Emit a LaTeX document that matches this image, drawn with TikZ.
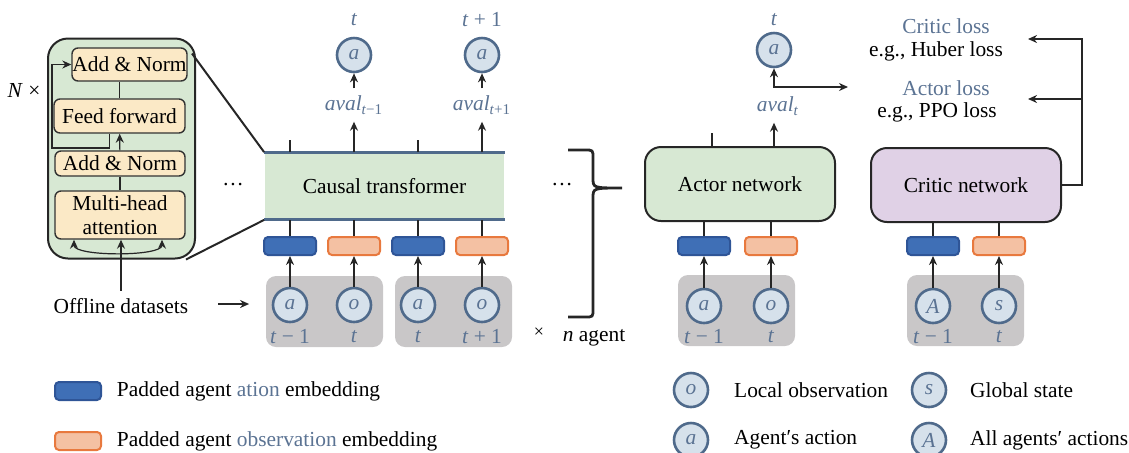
\documentclass[tikz,border=0pt]{standalone}
\usepackage{fontspec}
\setmainfont{Liberation Serif}
\usetikzlibrary{positioning,arrows.meta}
\definecolor{txtblue}{HTML}{5B7393}
\definecolor{circfill}{HTML}{D6E1EB}
\definecolor{circline}{HTML}{4F6A8B}
\definecolor{actfill}{HTML}{3F6FB6}
\definecolor{actline}{HTML}{2F5597}
\definecolor{obsfill}{HTML}{F4C1A3}
\definecolor{obsline}{HTML}{E8793E}
\definecolor{netgreen}{HTML}{D7E8D3}
\definecolor{layeryellow}{HTML}{FBE9C6}
\definecolor{netpurple}{HTML}{E0D1E6}
\definecolor{boxgray}{HTML}{C9C7C8}

\begin{document}
\begin{tikzpicture}[x=0.5pt, y=-0.5pt, >={Stealth[length=4.5pt,width=4pt]},
            line width=0.9pt, draw=black!85,
            every node/.style = {font=\fontsize{10.7}{12}\selectfont},
            var/.style = {circle, draw=circline, line width=1.3pt, fill=circfill, minimum size=17pt,
                    inner sep=0pt, text=txtblue, font=\fontsize{10.7}{12}\selectfont\itshape},
            actemb/.style = {draw=actline, fill=actfill, line width=1pt, rounded corners=2pt,
                    minimum width=26pt, minimum height=9pt, inner sep=0pt},
            obsemb/.style = {draw=obsline, fill=obsfill, line width=1pt, rounded corners=2pt,
                    minimum width=26pt, minimum height=9pt, inner sep=0pt},
            blk/.style = {draw=black!85, fill=netgreen, rounded corners=10pt, line width=1pt, inner sep=0pt},
            layer/.style = {draw=black!80, fill=layeryellow, rounded corners=3pt, inner sep=0pt, line width=0.7pt},
            net/.style = {draw=black!85, line width=1pt, rounded corners=8pt, minimum width=95pt, minimum height=37pt},
            group/.style = {fill=boxgray, rounded corners=5pt, inner sep=0pt, minimum width=58.5pt, minimum height=35.5pt},
            tlabel/.style = {text=txtblue},
            thinline/.style = {line width=0.6pt},
        ]

        \useasboundingbox (0,0) rectangle (1129,452);

        % transformer block
        \node[blk, minimum width=73.5pt, minimum height=110pt] (blk) at (121.5,148.5) {};
        \node[layer, minimum width=57.5pt, minimum height=16.5pt] (an1) at (129.5,64.5) {Add \& Norm};
        \node[layer, minimum width=65.5pt, minimum height=17pt] (ff) at (119.5,116) {Feed forward};
        \node[layer, minimum width=65pt, minimum height=12.5pt] (an2) at (120,163.5) {Add \& Norm};
        \node[layer, minimum width=65pt, minimum height=24pt, align=center] (mha) at (120,215) {Multi-head\\attention};
        \node at (24,90) {\textit{N} ×};
        \coordinate (res) at (52,148);
        \draw[thinline] (an2) -- (mha);
        \draw[thinline, ->] (an2) -- (ff);
        \draw[thinline] (ff.north) -- (ff.north |- an1.south);
        \draw[thinline, ->] ([xshift=-5pt]ff.south) |- (res) |- (an1.west);
        \draw[thinline, <->] ([xshift=-23pt]mha.south) .. controls +(0,17) and +(0,17) .. ([xshift=21pt]mha.south);

        \node (offline) at (121,306) {Offline datasets};
        \draw[thinline, ->] (offline.north) -- (offline.north |- mha.south);

        % causal transformer
        \node[fill=netgreen, minimum width=119.5pt, minimum height=33pt] (ct) at (384.5,186) {Causal transformer};
        \draw[circline, line width=1.5pt] (ct.north west) -- (ct.north east);
        \draw[circline, line width=1.5pt] (ct.south west) -- (ct.south east);
        \draw[line width=1pt] ([xshift=-2pt,yshift=-8pt]blk.north east) -- (ct.north west);
        \draw[line width=1pt] ([xshift=-5pt]blk.south east) -- (ct.south west);
        \node at (233,185) {\dots};

        \node[group] (g1) at (324.5,311.5) {};
        \node[group] (g2) at (453.5,311.5) {};
        \foreach \x/\sty/\sym/\lab [count=\i] in {290/actemb/a/{\textit{t} − 1}, 354/obsemb/o/{\textit{t}},
                418/actemb/a/{\textit{t}}, 482/obsemb/o/{\textit{t} + 1}}
            {
                \node[\sty] (e\i) at (\x,246) {};
                \node[var] (v\i) at (\x,305) {\sym};
                \node[tlabel] at (\x,337) {\lab};
                \draw[->] (v\i) -- (e\i);
                \draw (e\i) -- (e\i |- ct.south);
            }
        \draw (e1 |- ct.north) -- ++(0,-12);
        \draw (e3 |- ct.north) -- ++(0,-12);

        \node[tlabel] (av1) at (354,105) {\textit{aval}\textsubscript{\textit{t}−1}};
        \node[var] (o1) at (354,55) {a};
        \node[tlabel] at (354,20) {\textit{t}};
        \node[tlabel] (av2) at (482,105) {\textit{aval}\textsubscript{\textit{t}+1}};
        \node[var] (o2) at (482,55) {a};
        \node[tlabel] at (482,20) {\textit{t} + 1};
        \draw[->] (e2 |- ct.north) -- (av1);
        \draw[->] (av1) -- (o1);
        \draw[->] (e4 |- ct.north) -- (av2);
        \draw[->] (av2) -- (o2);

        \coordinate (oa) at (218,304);
        \draw[->] (oa) -- (oa -| g1.west) [shorten >=8pt];

        % n agents
        \node at (562,185) {\dots};
        \draw[line width=1.4pt] (568,150) -- (585,150) .. controls (593,150) .. (593,158) -- (593,178)
            .. controls (593,188) .. (622,188) .. controls (593,188) .. (593,198) -- (593,309)
            .. controls (593,317) .. (585,317) -- (568,317);
        \node at (539,333) {\small ×};
        \node at (594,338) {\textit{n} agent};

        % actor and critic
        \node[net, fill=netgreen] (actor) at (740,184) {Actor network};
        \node[net, fill=netpurple] (critic) at (966,185) {Critic network};
        \node[group] (g3) at (736.5,310.5) {};
        \node[group] (g4) at (965.5,310.5) {};
        \foreach \x/\sty/\sym/\lab/\net [count=\i] in {704/actemb/a/{\textit{t} − 1}/actor, 771/obsemb/o/{\textit{t}}/actor,
                933/actemb/A/{\textit{t} − 1}/critic, 999/obsemb/s/{\textit{t}}/critic}
            {
                \node[\sty] (r\i) at (\x,246) {};
                \node[var] (w\i) at (\x,306) {\sym};
                \node[tlabel] at (\x,337) {\lab};
                \draw[->] (w\i) -- (r\i);
                \draw (r\i) -- (r\i |- \net.south);
            }

        \draw ([xshift=-14pt]actor.north) -- ++(0,-13);
        \node[tlabel] (avt) at (778,106) {\textit{aval}\textsubscript{\textit{t}}};
        \node[var] (at) at (774,50) {a};
        \node[tlabel] at (774,20) {\textit{t}};
        \coordinate (lossin) at (848,87);
        \draw[->] (actor.north -| at) -- (at |- avt.south);
        \draw[<->] (at) -- (at |- lossin) -- (lossin);

        \node[tlabel] (closs) at (946,26) {Critic loss};
        \node (huber) at (936,51) {e.g., Huber loss};
        \node[tlabel] (aloss) at (946,88) {Actor loss};
        \node (ppo) at (937,112) {e.g., PPO loss};
        \coordinate (rail) at (1082,39);
        \coordinate (cl) at (1028,39);
        \coordinate (al) at (1028,99);
        \draw[->] (critic.east) -| (rail) -- (cl);
        \draw[->] (critic.east -| rail) |- (al);

        % legend
        \node[actemb, minimum width=23pt] (lg1) at (78,391) {};
        \node[right=7pt of lg1, inner sep=0pt] {Padded agent \textcolor{txtblue}{ation} embedding};
        \node[obsemb, minimum width=23pt] (lg2) at (78,441) {};
        \node[right=7pt of lg2, inner sep=0pt] {Padded agent \textcolor{txtblue}{observation} embedding};
        \node[var] (lo) at (691,390) {o};
        \node[right=12pt of lo, inner sep=0pt] {Local observation};
        \node[var] (la) at (691,440) {a};
        \node[right=12pt of la, inner sep=0pt] {Agent′s action};
        \node[var] (ls) at (929,390) {s};
        \node[right=11pt of ls, inner sep=0pt] {Global state};
        \node[var] (lA) at (929,440) {A};
        \node[right=11pt of lA, inner sep=0pt] {All agents′ actions};
    \end{tikzpicture}
\end{document}
